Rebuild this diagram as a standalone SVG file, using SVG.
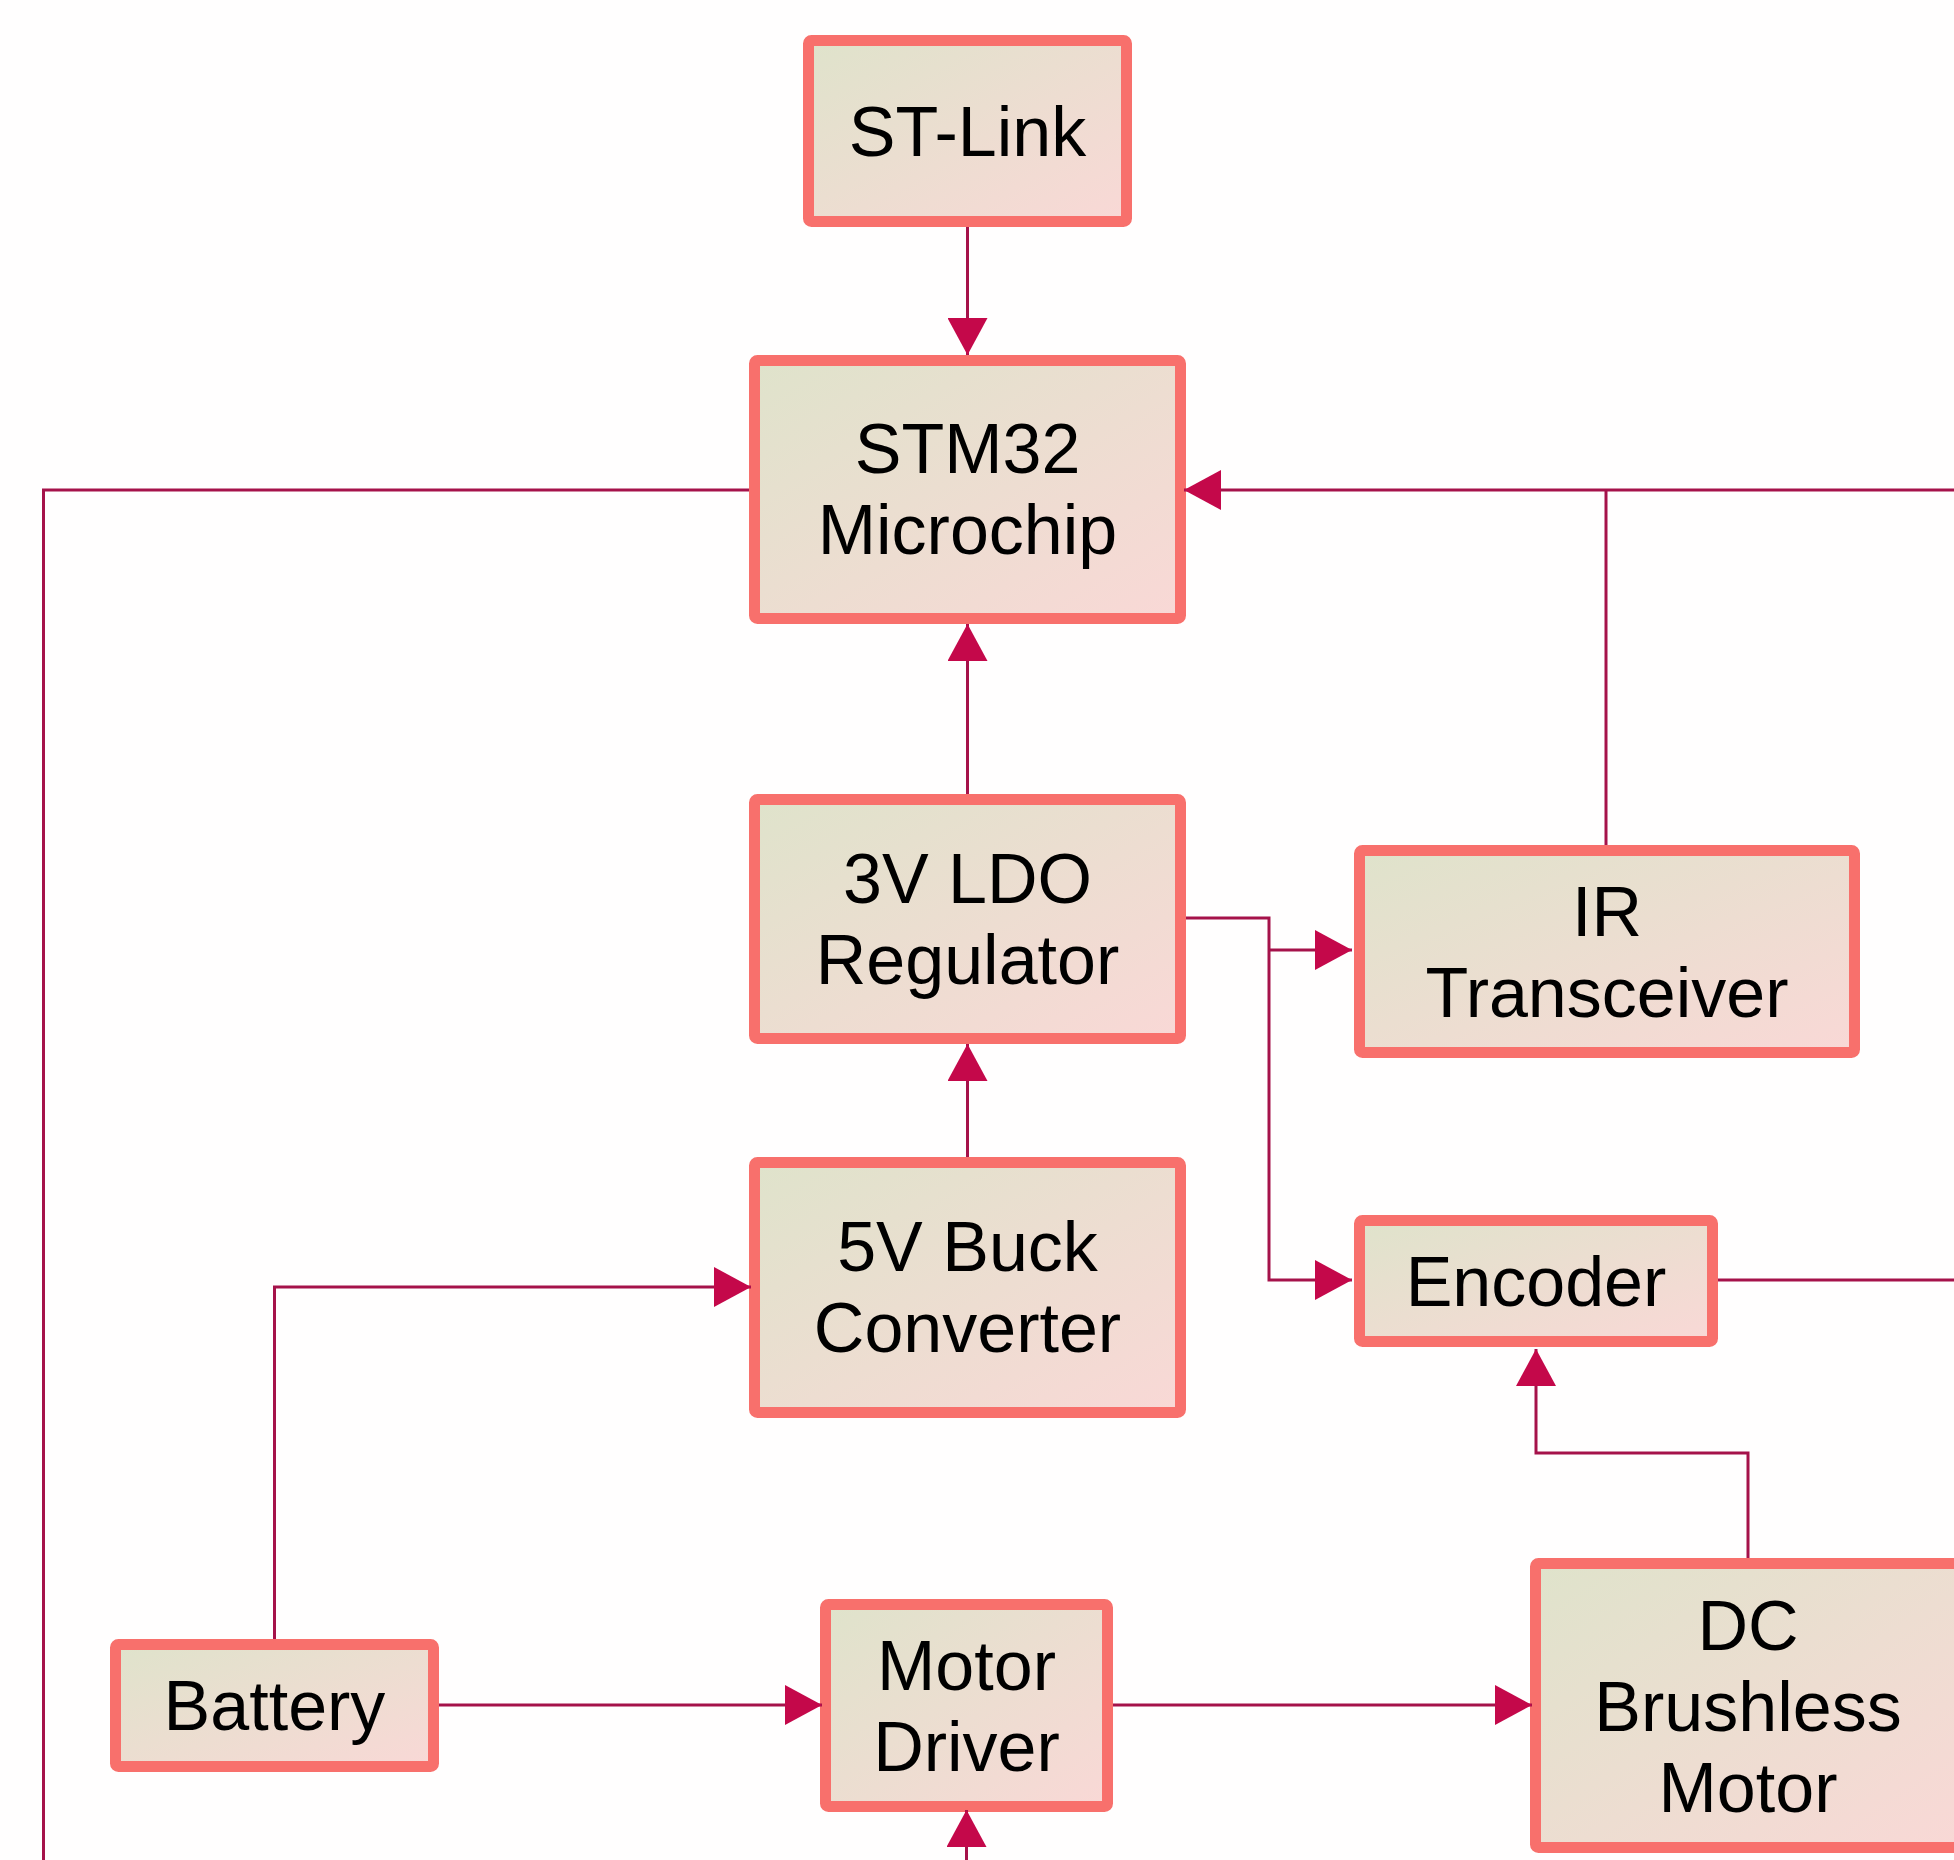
<svg xmlns="http://www.w3.org/2000/svg" width="1954" height="1860" viewBox="0 0 1954 1860">
<defs>
<linearGradient id="fillg" x1="0" y1="0" x2="1" y2="1">
<stop offset="0" stop-color="#dfe3cb"/>
<stop offset="1" stop-color="#f9d8d6"/>
</linearGradient>
<marker id="arr" markerUnits="userSpaceOnUse" markerWidth="38" markerHeight="40" refX="37" refY="20" orient="auto">
<path d="M0,0 L37,20 L0,40 z" fill="#c4084a"/>
</marker>
</defs>
<style>
.box{fill:url(#fillg);stroke:#f8706c;stroke-width:11;}
.lbl{font-family:"Liberation Sans",Arial,sans-serif;font-size:70px;fill:#000;text-anchor:middle;}
.con{fill:none;stroke:#a5124a;stroke-width:3;}
</style>
<rect x="0" y="0" width="1954" height="1860" fill="#fffefe"/>
<g id="st-link"><rect class="box" x="808.5" y="40.5" width="318" height="181" rx="3"/><text class="lbl" x="967.5" y="156">ST-Link</text></g>
<g id="stm32"><rect class="box" x="754.5" y="360.5" width="426" height="258" rx="3"/><text class="lbl" x="967.5" y="473">STM32</text><text class="lbl" x="967.5" y="554">Microchip</text></g>
<g id="ldo"><rect class="box" x="754.5" y="799.5" width="426" height="239" rx="3"/><text class="lbl" x="967.5" y="903">3V LDO</text><text class="lbl" x="967.5" y="984">Regulator</text></g>
<g id="ir"><rect class="box" x="1359.5" y="850.5" width="495" height="202" rx="3"/><text class="lbl" x="1607" y="936">IR</text><text class="lbl" x="1607" y="1017">Transceiver</text></g>
<g id="buck"><rect class="box" x="754.5" y="1162.5" width="426" height="250" rx="3"/><text class="lbl" x="967.5" y="1271">5V Buck</text><text class="lbl" x="967.5" y="1352">Converter</text></g>
<g id="encoder"><rect class="box" x="1359.5" y="1220.5" width="353" height="121" rx="3"/><text class="lbl" x="1536" y="1306">Encoder</text></g>
<g id="battery"><rect class="box" x="115.5" y="1644.5" width="318" height="122" rx="3"/><text class="lbl" x="274.5" y="1730">Battery</text></g>
<g id="motor-driver"><rect class="box" x="825.5" y="1604.5" width="282" height="202" rx="3"/><text class="lbl" x="966.5" y="1690">Motor</text><text class="lbl" x="966.5" y="1771">Driver</text></g>
<g id="dc-motor"><rect class="box" x="1535.5" y="1563.5" width="425" height="284" rx="3"/><text class="lbl" x="1748" y="1650">DC</text><text class="lbl" x="1748" y="1731">Brushless</text><text class="lbl" x="1748" y="1812">Motor</text></g>
<g id="connectors">
<path class="con" d="M967.5 227 V355" marker-end="url(#arr)"/>
<path class="con" d="M967.5 794 V624" marker-end="url(#arr)"/>
<path class="con" d="M967.5 1157 V1044" marker-end="url(#arr)"/>
<path class="con" d="M749 490 H43.5 V1860"/>
<path class="con" d="M1954 490 H1184" marker-end="url(#arr)"/>
<path class="con" d="M1606 845 V490"/>
<path class="con" d="M1186 918 H1269 V1280 H1352" marker-end="url(#arr)"/>
<path class="con" d="M1269 950 H1352" marker-end="url(#arr)"/>
<path class="con" d="M1718 1280 H1954"/>
<path class="con" d="M1748 1558 V1453 H1536 V1349" marker-end="url(#arr)"/>
<path class="con" d="M274.5 1639 V1287 H751" marker-end="url(#arr)"/>
<path class="con" d="M439 1705 H822" marker-end="url(#arr)"/>
<path class="con" d="M1113 1705 H1532" marker-end="url(#arr)"/>
<path class="con" d="M966.5 1860 V1810" marker-end="url(#arr)"/>
</g>
</svg>
